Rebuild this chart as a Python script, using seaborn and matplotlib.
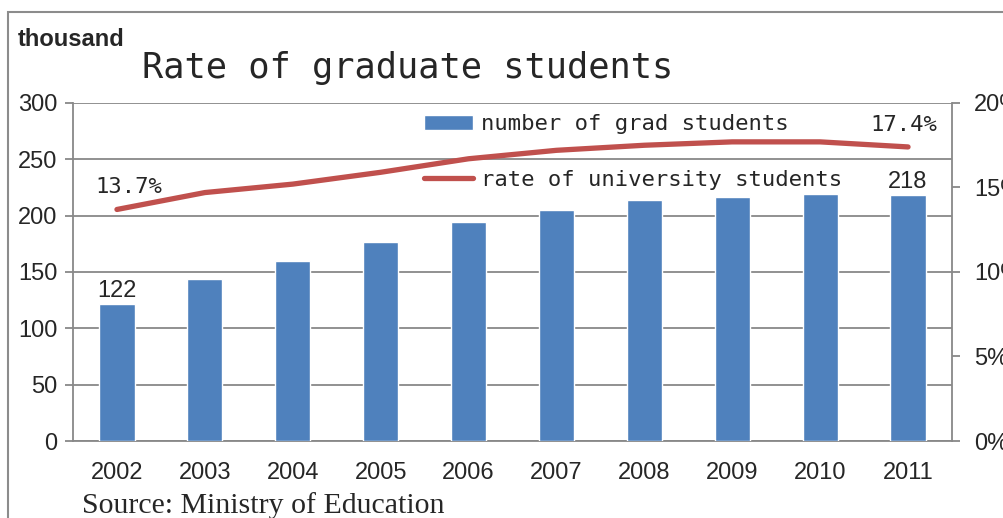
import numpy as np
import pandas as pd
import seaborn as sns
import matplotlib.pyplot as plt
from matplotlib.patches import Rectangle
from matplotlib.ticker import FixedLocator, FuncFormatter

# ----------------------------------------------------------------
# Data
# ----------------------------------------------------------------
years = ['2002', '2003', '2004', '2005', '2006', '2007', '2008', '2009', '2010', '2011']
grad_students = [122, 144, 160, 177, 194, 205, 214, 217, 219, 218]   # thousand
univ_rate = [13.7, 14.7, 15.2, 15.9, 16.7, 17.2, 17.5, 17.7, 17.7, 17.4]  # percent

bar_label = 'number of grad students'
line_label = 'rate of university students'
left_ticks = [0, 50, 100, 150, 200, 250, 300]
right_ticks = [0, 5, 10, 15, 20]

BLUE = '#4F81BD'
RED = '#C0504D'
GRID = '#888888'

sns.set_style('white')
plt.rcParams['font.family'] = ['Liberation Sans', 'DejaVu Sans']

df = pd.DataFrame({'year': years, 'grad': grad_students, 'rate': univ_rate})
df['pos'] = np.arange(len(df))

fig = plt.figure(figsize=(10.04, 5.18), dpi=100)
ax = fig.add_axes([73 / 1004, 77 / 518, 879 / 1004, 338 / 518])

# bars on the left axis
sns.barplot(data=df, x='year', y='grad', color=BLUE, width=0.4,
            saturation=1, ax=ax, label=bar_label, zorder=3)
ax.set_ylim(0, 300)
ax.set_xlim(-0.5, len(years) - 0.5)
ax.yaxis.set_major_locator(FixedLocator(left_ticks))
ax.grid(axis='y', color=GRID, linewidth=1.3, zorder=0)
ax.set_axisbelow(True)
ax.set_xlabel('')
ax.set_ylabel('')

# category boundaries get the tick marks, labels sit in between
ax.set_xticks(np.arange(len(years) + 1) - 0.5)
ax.set_xticklabels([])
ax.set_xticks(df['pos'], minor=True)
ax.set_xticklabels(years, minor=True)
ax.tick_params(axis='x', which='major', length=6, width=1.3, color=GRID, direction='out')
ax.tick_params(axis='x', which='minor', length=0, pad=15, labelsize=17)
ax.tick_params(axis='y', length=6, width=1.3, color=GRID, pad=5, labelsize=17)

for side in ['top', 'right']:
    ax.spines[side].set_visible(False)
for side in ['left', 'bottom']:
    ax.spines[side].set_color(GRID)
    ax.spines[side].set_linewidth(1.3)

# line on the right axis
ax2 = ax.twinx()
sns.lineplot(data=df, x='pos', y='rate', color=RED, linewidth=3.8,
             ax=ax2, label=line_label, zorder=4)
ax2.set_ylim(0, 20)
ax2.yaxis.set_major_locator(FixedLocator(right_ticks))
ax2.yaxis.set_major_formatter(FuncFormatter(lambda v, p: f'{v:.0f}%'))
ax2.tick_params(axis='y', length=6, width=1.3, color=GRID, pad=10, labelsize=17)
ax2.set_ylabel('')
ax2.set_xlabel('')
ax2.grid(False)
for side in ['top', 'left', 'bottom']:
    ax2.spines[side].set_visible(False)
ax2.spines['right'].set_color(GRID)
ax2.spines['right'].set_linewidth(1.3)

# value labels at both ends
for i in [0, len(years) - 1]:
    ax.annotate(str(grad_students[i]), (df['pos'][i], grad_students[i]),
                xytext=(0, 2), textcoords='offset pixels', ha='center', va='bottom',
                fontsize=17)
ax2.annotate(f'{univ_rate[0]}%', (df['pos'][0], univ_rate[0]),
             xytext=(12, 12), textcoords='offset pixels', ha='center', va='bottom',
             fontsize=16, family='DejaVu Sans Mono')
ax2.annotate(f'{univ_rate[-1]}%', (df['pos'].iloc[-1], univ_rate[-1]),
             xytext=(-4, 12), textcoords='offset pixels', ha='center', va='bottom',
             fontsize=16, family='DejaVu Sans Mono')

# combined legend without frame
h1, l1 = ax.get_legend_handles_labels()
h2, l2 = ax2.get_legend_handles_labels()
if ax2.get_legend():
    ax2.get_legend().remove()
if ax.get_legend():
    ax.get_legend().remove()
fig.legend(h1 + h2, l1 + l2, loc='upper left',
           bbox_to_anchor=(413 / 1004, 1 - 103 / 518),
           frameon=False, borderpad=0, handlelength=2.2, handletextpad=0.35,
           labelspacing=1.6, prop={'family': 'DejaVu Sans Mono', 'size': 16})

# titles and source
fig.text(18 / 1004, 1 - 46 / 518, 'thousand', fontsize=17, fontweight='bold',
         va='baseline')
fig.text(142 / 1004, 1 - 78 / 518, 'Rate of graduate students', fontsize=25.5,
         family='DejaVu Sans Mono', va='baseline')
fig.text(82 / 1004, 1 - 513 / 518, 'Source: Ministry of Education', fontsize=21.5,
         family='Liberation Serif', va='baseline')

# outer chart frame, cropped at right and bottom like the reference
fig.patches.append(Rectangle((8 / 1004, -0.2), 1.2, 1.2 - 12 / 518,
                             transform=fig.transFigure, fill=False,
                             edgecolor='#8c8c8c', linewidth=1.5, clip_on=False))

plt.savefig('out.png', dpi=100)
